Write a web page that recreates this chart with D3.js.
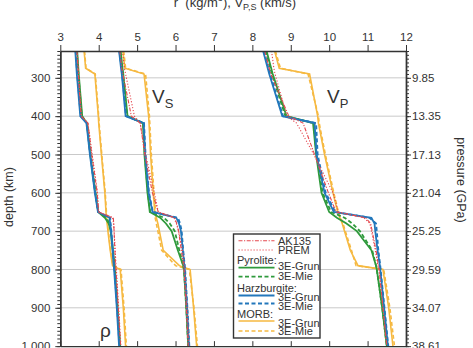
<!DOCTYPE html>
<html>
<head>
<meta charset="utf-8">
<title>Density and velocity profiles</title>
<script src="https://d3js.org/d3.v7.min.js"></script>
<style>
  body { margin: 0; background: #fff; }
  svg { font-family: "Liberation Sans", Arial, sans-serif; }
</style>
</head>
<body>
<script>

// depth grid shared by every profile (km)
var depthKm = [230, 275, 290, 400, 418, 500, 600, 650, 665, 680, 700, 750, 790, 800, 900, 1000];

// density
var rhoAK135    = [3.43, 3.46, 3.47, 3.54, 3.72, 3.82, 3.96, 4.00, 4.38, 4.39, 4.40, 4.42, 4.44, 4.45, 4.51, 4.57];
var rhoPREM     = [3.44, 3.47, 3.48, 3.55, 3.72, 3.83, 3.97, 3.99, 4.36, 4.39, 4.40, 4.43, 4.45, 4.46, 4.52, 4.58];
var rhoPyrGrun  = [3.44, 3.47, 3.48, 3.57, 3.69, 3.78, 3.91, 3.99, 4.16, 4.26, 4.31, 4.37, 4.41, 4.42, 4.49, 4.56];
var rhoPyrMie   = [3.43, 3.46, 3.47, 3.56, 3.70, 3.79, 3.92, 3.99, 4.20, 4.28, 4.32, 4.37, 4.41, 4.42, 4.49, 4.55];
var rhoHarzGrun = [3.39, 3.42, 3.43, 3.52, 3.68, 3.77, 3.90, 3.98, 4.28, 4.30, 4.32, 4.36, 4.39, 4.40, 4.47, 4.53];
var rhoHarzMie  = [3.40, 3.43, 3.44, 3.53, 3.69, 3.78, 3.91, 3.99, 4.30, 4.31, 4.33, 4.37, 4.40, 4.41, 4.48, 4.54];
var rhoMorbGrun = [3.62, 3.66, 3.90, 3.99, 4.00, 4.07, 4.16, 4.19, 4.20, 4.22, 4.24, 4.30, 4.36, 4.56, 4.64, 4.70];
var rhoMorbMie  = [3.63, 3.67, 3.91, 4.00, 4.01, 4.08, 4.17, 4.20, 4.21, 4.23, 4.25, 4.31, 4.37, 4.58, 4.66, 4.72];

// shear velocity
var vsAK135    = [4.55, 4.60, 4.63, 4.85, 5.08, 5.20, 5.40, 5.55, 5.98, 6.03, 6.08, 6.15, 6.21, 6.22, 6.28, 6.33];
var vsPREM     = [4.62, 4.67, 4.70, 4.93, 5.08, 5.22, 5.45, 5.55, 5.96, 6.02, 6.08, 6.18, 6.24, 6.24, 6.30, 6.35];
var vsPyrGrun  = [4.57, 4.62, 4.64, 4.75, 5.15, 5.19, 5.27, 5.33, 5.60, 5.75, 5.90, 6.06, 6.20, 6.22, 6.28, 6.33];
var vsPyrMie   = [4.56, 4.61, 4.63, 4.74, 5.16, 5.20, 5.28, 5.34, 5.70, 5.85, 5.98, 6.10, 6.20, 6.22, 6.28, 6.33];
var vsHarzGrun = [4.53, 4.58, 4.60, 4.70, 5.17, 5.21, 5.30, 5.40, 6.02, 6.09, 6.14, 6.19, 6.23, 6.24, 6.30, 6.35];
var vsHarzMie  = [4.54, 4.59, 4.61, 4.71, 5.18, 5.22, 5.31, 5.41, 6.06, 6.12, 6.16, 6.20, 6.24, 6.25, 6.31, 6.36];
var vsMorbGrun = [4.63, 4.68, 5.18, 5.30, 5.31, 5.35, 5.42, 5.46, 5.50, 5.54, 5.58, 5.68, 6.10, 6.38, 6.47, 6.55];
var vsMorbMie  = [4.65, 4.70, 5.22, 5.32, 5.33, 5.37, 5.44, 5.48, 5.47, 5.50, 5.54, 5.64, 6.00, 6.36, 6.48, 6.57];

// compressional velocity
var vpAK135    = [8.32, 8.44, 8.48, 8.95, 9.32, 9.62, 9.98, 10.18, 10.95, 11.08, 11.12, 11.22, 11.28, 11.30, 11.40, 11.50];
var vpPREM     = [8.50, 8.56, 8.59, 8.90, 9.15, 9.60, 10.10, 10.24, 10.90, 11.06, 11.10, 11.20, 11.27, 11.30, 11.40, 11.50];
var vpPyrGrun  = [8.37, 8.49, 8.53, 8.89, 9.58, 9.66, 9.80, 10.00, 10.20, 10.45, 10.72, 11.10, 11.22, 11.24, 11.38, 11.50];
var vpPyrMie   = [8.35, 8.47, 8.51, 8.86, 9.60, 9.67, 9.83, 10.05, 10.40, 10.60, 10.80, 11.12, 11.22, 11.24, 11.38, 11.50];
var vpHarzGrun = [8.28, 8.40, 8.44, 8.78, 9.62, 9.67, 9.88, 10.12, 11.10, 11.18, 11.20, 11.26, 11.32, 11.33, 11.43, 11.53];
var vpHarzMie  = [8.30, 8.42, 8.46, 8.80, 9.66, 9.70, 9.91, 10.16, 11.05, 11.22, 11.24, 11.28, 11.33, 11.34, 11.44, 11.54];
var vpMorbGrun = [8.58, 8.70, 9.49, 9.70, 9.72, 9.88, 10.10, 10.22, 10.28, 10.34, 10.40, 10.55, 10.75, 11.40, 11.55, 11.66];
var vpMorbMie  = [8.60, 8.73, 9.45, 9.72, 9.74, 9.90, 10.12, 10.24, 10.30, 10.36, 10.42, 10.58, 10.70, 11.42, 11.58, 11.70];

// axis ticks
var xTicks = [3, 4, 5, 6, 7, 8, 9, 10, 11, 12];
var depthTicks = [300, 400, 500, 600, 700, 800, 900, 1000];
var pressureLabels = ["9.85", "13.35", "17.13", "21.04", "25.25", "29.59", "34.07", "38.61"];

var green = "#2f9a3c", blue = "#2277bb", orange = "#f6b941", red = "#e5484f";

// drawing order: MORB first, reference models on top
var models = [
    {name: "MORB Mie",  rho: rhoMorbMie,  vs: vsMorbMie,  vp: vpMorbMie,  color: orange, dash: "4,2.5", w: 1.6},
    {name: "MORB Grun", rho: rhoMorbGrun, vs: vsMorbGrun, vp: vpMorbGrun, color: orange, dash: null, w: 1.6},
    {name: "Pyr Mie",   rho: rhoPyrMie,   vs: vsPyrMie,   vp: vpPyrMie,   color: green, dash: "4,2.5", w: 1.8},
    {name: "Pyr Grun",  rho: rhoPyrGrun,  vs: vsPyrGrun,  vp: vpPyrGrun,  color: green, dash: null, w: 1.8},
    {name: "Harz Mie",  rho: rhoHarzMie,  vs: vsHarzMie,  vp: vpHarzMie,  color: blue, dash: "4,2.5", w: 1.8},
    {name: "Harz Grun", rho: rhoHarzGrun, vs: vsHarzGrun, vp: vpHarzGrun, color: blue, dash: null, w: 1.8},
    {name: "PREM",      rho: rhoPREM,     vs: vsPREM,     vp: vpPREM,     color: red, dash: "1.2,1.8", w: 1.1},
    {name: "AK135",     rho: rhoAK135,    vs: vsAK135,    vp: vpAK135,    color: red, dash: "4,1.5,1.2,1.5", w: 1.1}
];

var W = 473, H = 348;
var plot = {left: 60.3, right: 406, top: 51};

var x = d3.scaleLinear().domain([3, 12]).range([plot.left, plot.right]);
var y = d3.scaleLinear().domain([230, 1000]).range([plot.top, plot.top + 770 * 0.3833]);
var bottom = y(1000);

var svg = d3.select("body").append("svg")
    .attr("width", W)
    .attr("height", H);

svg.append("clipPath").attr("id", "clip")
  .append("rect")
    .attr("x", plot.left).attr("y", plot.top)
    .attr("width", plot.right - plot.left).attr("height", bottom - plot.top);

// gridlines
svg.append("g").selectAll("line")
    .data(depthTicks.filter(function(d) { return d < 1000; }))
    .join("line")
    .attr("x1", plot.left).attr("x2", plot.right)
    .attr("y1", function(d) { return y(d); })
    .attr("y2", function(d) { return y(d); })
    .style("stroke", "#c9c9c9")
    .style("stroke-width", 1);

// profiles
var lines = svg.append("g").attr("clip-path", "url(#clip)");
["rho", "vs", "vp"].forEach(function(prop) {
    models.forEach(function(m) {
        var line = d3.line()
            .x(function(d, i) { return x(m[prop][i]); })
            .y(function(d) { return y(d); });
        lines.append("path")
            .datum(depthKm)
            .attr("d", line)
            .style("fill", "none")
            .style("stroke", m.color)
            .style("stroke-width", m.w)
            .style("stroke-dasharray", m.dash);
    });
});

// axes
function styleAxis(g) {
    g.selectAll(".domain").style("stroke", "#333").style("stroke-width", 1.4);
    g.selectAll(".tick line").style("stroke", "#333").style("stroke-width", 1);
    g.selectAll(".tick text").style("fill", "#333").style("font-size", "11.5px");
}

svg.append("g")
    .attr("transform", "translate(0," + plot.top + ")")
    .call(d3.axisTop(x).tickValues(xTicks).tickSize(6).tickSizeOuter(0).tickPadding(4))
    .call(styleAxis);

svg.append("g")
    .attr("transform", "translate(0," + bottom + ")")
    .call(d3.axisTop(x).tickValues(xTicks).tickSize(5).tickSizeOuter(0).tickFormat(""))
    .call(styleAxis);

var minor = d3.range(230, 1001, 10);

svg.append("g")
    .attr("transform", "translate(" + plot.left + ",0)")
    .call(d3.axisLeft(y).tickValues(minor).tickSize(3).tickSizeOuter(0).tickFormat(""))
    .call(styleAxis);

svg.append("g")
    .attr("transform", "translate(" + plot.left + ",0)")
    .call(d3.axisLeft(y).tickValues(depthTicks).tickSize(5).tickSizeOuter(0).tickPadding(5))
    .call(styleAxis);

svg.append("g")
    .attr("transform", "translate(" + plot.right + ",0)")
    .call(d3.axisRight(y).tickValues(minor).tickSize(3).tickSizeOuter(0).tickFormat(""))
    .call(styleAxis);

svg.append("g")
    .attr("transform", "translate(" + plot.right + ",0)")
    .call(d3.axisRight(y).tickValues(depthTicks).tickSize(5).tickSizeOuter(0).tickPadding(1)
        .tickFormat(function(d, i) { return pressureLabels[i]; }))
    .call(styleAxis);

// axis titles
var title = svg.append("text")
    .attr("x", 235).attr("y", 7)
    .attr("text-anchor", "middle")
    .style("font-size", "13px")
    .style("fill", "#333")
    .style("white-space", "pre");
title.append("tspan").text("r  (kg/m");
title.append("tspan").attr("dy", -6).style("font-size", "9px").text("3");
title.append("tspan").attr("dy", 6).text("), V");
title.append("tspan").attr("dy", 3).style("font-size", "9px").text("P,S");
title.append("tspan").attr("dy", -3).text(" (km/s)");

svg.append("text")
    .attr("transform", "translate(13,197) rotate(-90)")
    .attr("text-anchor", "middle")
    .style("font-size", "12.5px")
    .style("fill", "#333")
    .text("depth (km)");

svg.append("text")
    .attr("transform", "translate(457,180) rotate(90)")
    .attr("text-anchor", "middle")
    .style("font-size", "12.5px")
    .style("fill", "#333")
    .text("pressure (GPa)");

// panel labels
function subLabel(px, py, main, sub) {
    var t = svg.append("text")
        .attr("x", px).attr("y", py)
        .style("font-size", "19px")
        .style("fill", "#333");
    t.append("tspan").text(main);
    if (sub) t.append("tspan").attr("dy", 5).style("font-size", "13px").text(sub);
}
subLabel(152, 103, "V", "S");
subLabel(327, 103, "V", "P");
subLabel(100, 337, "ρ", null);

// legend
var lg = svg.append("g").attr("transform", "translate(233.5,234)");
lg.append("rect")
    .attr("width", 86.5).attr("height", 104)
    .style("fill", "#fff")
    .style("stroke", "#333")
    .style("stroke-width", 1.4);

var legendRows = [
    {ly: 6.7, ty: 6.7, label: "AK135", color: red, dash: "4,1.5,1.2,1.5", w: 1.1},
    {ly: 16, ty: 16, label: "PREM", color: red, dash: "1.2,1.8", w: 1.1},
    {ty: 26, head: "Pyrolite:"},
    {ly: 33.7, ty: 32, label: "3E-Grun", color: green, dash: null, w: 1.8},
    {ly: 42.7, ty: 42, label: "3E-Mie", color: green, dash: "4,2.5", w: 1.8},
    {ty: 53.7, head: "Harzburgite:"},
    {ly: 61.5, ty: 63.5, label: "3E-Grun", color: blue, dash: null, w: 1.8},
    {ly: 69.5, ty: 72.5, label: "3E-Mie", color: blue, dash: "4,2.5", w: 1.8},
    {ty: 80.3, head: "MORB:"},
    {ly: 87, ty: 88.7, label: "3E-Grun", color: orange, dash: null, w: 1.6},
    {ly: 97, ty: 97, label: "3E-Mie", color: orange, dash: "4,2.5", w: 1.6}
];

legendRows.forEach(function(r) {
    if (r.head) {
        lg.append("text")
            .attr("x", 3.5).attr("y", r.ty).attr("dy", "0.35em")
            .style("font-size", "11px").style("fill", "#333")
            .text(r.head);
        return;
    }
    lg.append("line")
        .attr("x1", 5).attr("x2", 41)
        .attr("y1", r.ly).attr("y2", r.ly)
        .style("stroke", r.color)
        .style("stroke-width", r.w)
        .style("stroke-dasharray", r.dash);
    lg.append("text")
        .attr("x", 44.5).attr("y", r.ty).attr("dy", "0.35em")
        .style("font-size", "11px").style("fill", "#333")
        .text(r.label);
});

</script>
</body>
</html>
